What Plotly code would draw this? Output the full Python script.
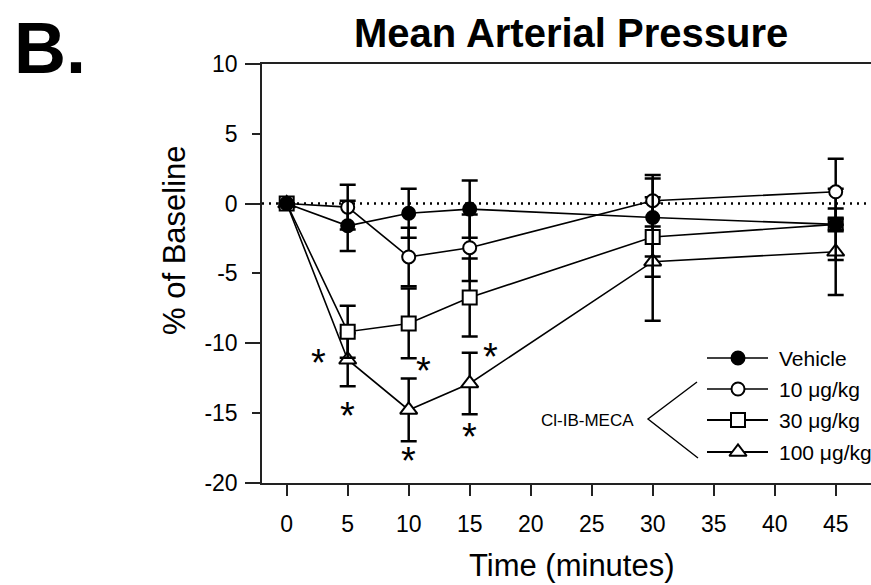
import plotly.graph_objects as go

# ---------------- data ----------------
time_min = [0, 5, 10, 15, 30, 45]

vehicle = [0, -1.6, -0.7, -0.4, -1.0, -1.5]
vehicle_sem = [0, 1.8, 1.75, 2.05, 2.8, 0.4]

dose10 = [0, -0.26, -3.83, -3.17, 0.2, 0.84]
dose10_sem = [0, 1.6, 2.1, 2.38, 1.85, 2.36]

dose30 = [0, -9.19, -8.6, -6.74, -2.4, -1.5]
dose30_sem = [0, 1.86, 2.5, 2.8, 2.85, 2.55]

dose100 = [0, -11.2, -14.8, -12.9, -4.17, -3.46]
dose100_sem = [0, 1.9, 2.25, 2.2, 4.23, 3.1]

series_names = ["Vehicle", "10 \u03bcg/kg", "30 \u03bcg/kg", "100 \u03bcg/kg"]

# significance asterisks (x in minutes, y in % of baseline)
star_x = [2.57, 4.97, 11.2, 9.97, 16.7, 14.97]
star_y = [-10.86, -14.67, -11.4, -17.9, -10.4, -16.2]

y_ticks = [10, 5, 0, -5, -10, -15, -20]
x_ticks = [0, 5, 10, 15, 20, 25, 30, 35, 40, 45]

# ---------------- styling ----------------
W, H = 871, 585
FONT = "Arial, 'Liberation Sans', Helvetica, sans-serif"
BLACK = "#000000"

x_left_px, x_right_px = 262, 871
y_top_px, y_bot_px = 64, 482.5

styles = {
    "Vehicle": dict(symbol="circle", size=13, fill=BLACK),
    "10": dict(symbol="circle", size=13, fill="white"),
    "30": dict(symbol="square", size=14, fill="white"),
    "100": dict(symbol="triangle-up", size=15, fill="white"),
}

fig = go.Figure()


def add_series(y, sem, key, name):
    st = styles[key]
    fig.add_trace(go.Scatter(
        x=time_min, y=y, name=name, mode="lines+markers",
        line=dict(color=BLACK, width=1.6),
        marker=dict(symbol=st["symbol"], size=st["size"], color=st["fill"],
                    line=dict(color=BLACK, width=2)),
        error_y=dict(type="data", array=sem, visible=True, color=BLACK,
                     thickness=2.5, width=8),
        showlegend=False, xaxis="x", yaxis="y", cliponaxis=False,
    ))


add_series(dose100, dose100_sem, "100", series_names[3])
add_series(dose30, dose30_sem, "30", series_names[2])
add_series(dose10, dose10_sem, "10", series_names[1])
add_series(vehicle, vehicle_sem, "Vehicle", series_names[0])

# reference line at 0
fig.add_shape(type="line", xref="x domain", yref="y", x0=0, x1=1, y0=0, y1=0,
              line=dict(color=BLACK, width=2.5, dash="2px,5px"), layer="below")

# asterisks
for sx, sy in zip(star_x, star_y):
    fig.add_annotation(x=sx, y=sy, xref="x", yref="y", text="*", showarrow=False,
                       font=dict(family=FONT, size=38, color=BLACK), yshift=-8)

# ---------------- manual legend on a pixel overlay axis ----------------
leg_rows = [358, 389, 420, 452]
leg_keys = ["Vehicle", "10", "30", "100"]
leg_line_x = [707, 768]
leg_mark_x = 738
for row, key, name in zip(leg_rows, leg_keys, series_names):
    st = styles[key]
    fig.add_trace(go.Scatter(
        x=leg_line_x, y=[row, row], mode="lines",
        line=dict(color=BLACK, width=1.6 if key in ("Vehicle", "10") else 2.2),
        xaxis="x3", yaxis="y3", showlegend=False, hoverinfo="skip"))
    fig.add_trace(go.Scatter(
        x=[leg_mark_x], y=[row], mode="markers",
        marker=dict(symbol=st["symbol"], size=st["size"], color=st["fill"],
                    line=dict(color=BLACK, width=2)),
        xaxis="x3", yaxis="y3", showlegend=False, hoverinfo="skip"))
    fig.add_annotation(x=777, y=row, xref="x3", yref="y3",
                       text=name, showarrow=False, xanchor="left", yanchor="middle",
                       font=dict(family=FONT, size=21, color=BLACK))

# bracket
fig.add_trace(go.Scatter(
    x=[697, 648, 698], y=[382, 419, 458], mode="lines",
    line=dict(color=BLACK, width=1.4), xaxis="x3", yaxis="y3",
    showlegend=False, hoverinfo="skip"))
fig.add_annotation(x=636, y=420, xref="x3", yref="y3",
                   text="Cl-IB-MECA", showarrow=False, xanchor="right", yanchor="middle",
                   font=dict(family=FONT, size=17, color=BLACK))

# titles
fig.add_annotation(x=571, y=33, xref="x3", yref="y3",
                   text="<b>Mean Arterial Pressure</b>", showarrow=False,
                   xanchor="center", yanchor="middle",
                   font=dict(family=FONT, size=40, color=BLACK))
fig.add_annotation(x=12, y=48, xref="x3", yref="y3",
                   text="<b>B.</b>", showarrow=False, xanchor="left", yanchor="middle",
                   font=dict(family=FONT, size=72, color=BLACK))
fig.add_annotation(x=572, y=565, xref="x3", yref="y3",
                   text="Time (minutes)", showarrow=False, xanchor="center",
                   yanchor="middle", font=dict(family=FONT, size=31, color=BLACK))
fig.add_annotation(x=174, y=240, xref="x3", yref="y3",
                   text="% of Baseline", showarrow=False, textangle=-90,
                   xanchor="center", yanchor="middle",
                   font=dict(family=FONT, size=31, color=BLACK))

x_dom = [x_left_px / W, 1.0]
y_dom = [1 - y_bot_px / H, 1 - y_top_px / H]
x_unit = 12.2
x_range = [-(286.7 - x_left_px) / x_unit, (x_right_px - 286.7) / x_unit]

fig.update_layout(
    width=W, height=H, autosize=False,
    margin=dict(l=0, r=0, t=0, b=0, pad=0, autoexpand=False),
    paper_bgcolor="white", plot_bgcolor="rgba(0,0,0,0)",
    font=dict(family=FONT, color=BLACK),
    xaxis=dict(domain=x_dom, range=x_range, tickmode="array", tickvals=x_ticks,
               ticktext=[str(v) for v in x_ticks], ticks="outside", ticklen=12,
               tickwidth=1.5, tickcolor="#222", showline=True, linecolor="#222",
               linewidth=1.5, mirror=True, showgrid=False, zeroline=False,
               tickfont=dict(size=23, color=BLACK), ticklabelstandoff=8,
               anchor="y", automargin=False),
    yaxis=dict(domain=y_dom, range=[-20, 10], tickmode="array", tickvals=y_ticks,
               ticktext=[str(v) for v in y_ticks], ticks="outside", ticklen=8,
               tickwidth=1.5, tickcolor="#222", showline=True, linecolor="#222",
               linewidth=1.5, showgrid=False, zeroline=False,
               tickfont=dict(size=23, color=BLACK), ticklabelstandoff=10,
               anchor="x", automargin=False),
    yaxis2=dict(domain=y_dom, range=[-20, 10], overlaying="y", anchor="x",
                tickmode="array", tickvals=[10, 0, -10, -20], ticks="outside",
                ticklen=16, tickwidth=1.5, tickcolor="#222", showticklabels=False,
                showline=False, showgrid=False, zeroline=False, automargin=False),
    xaxis3=dict(domain=[0, 1], range=[0, W], visible=False, anchor="y3",
                fixedrange=True, automargin=False),
    yaxis3=dict(domain=[0, 1], range=[H, 0], visible=False, anchor="x3",
                fixedrange=True, automargin=False),
)

# dummy trace so yaxis2 is rendered
fig.add_trace(go.Scatter(x=[None], y=[None], xaxis="x", yaxis="y2",
                         showlegend=False, hoverinfo="skip"))

fig.write_html(
    "out.html",
    config={"displayModeBar": False},
    post_script="document.body.style.margin='0';document.body.style.overflow='hidden';",
)
